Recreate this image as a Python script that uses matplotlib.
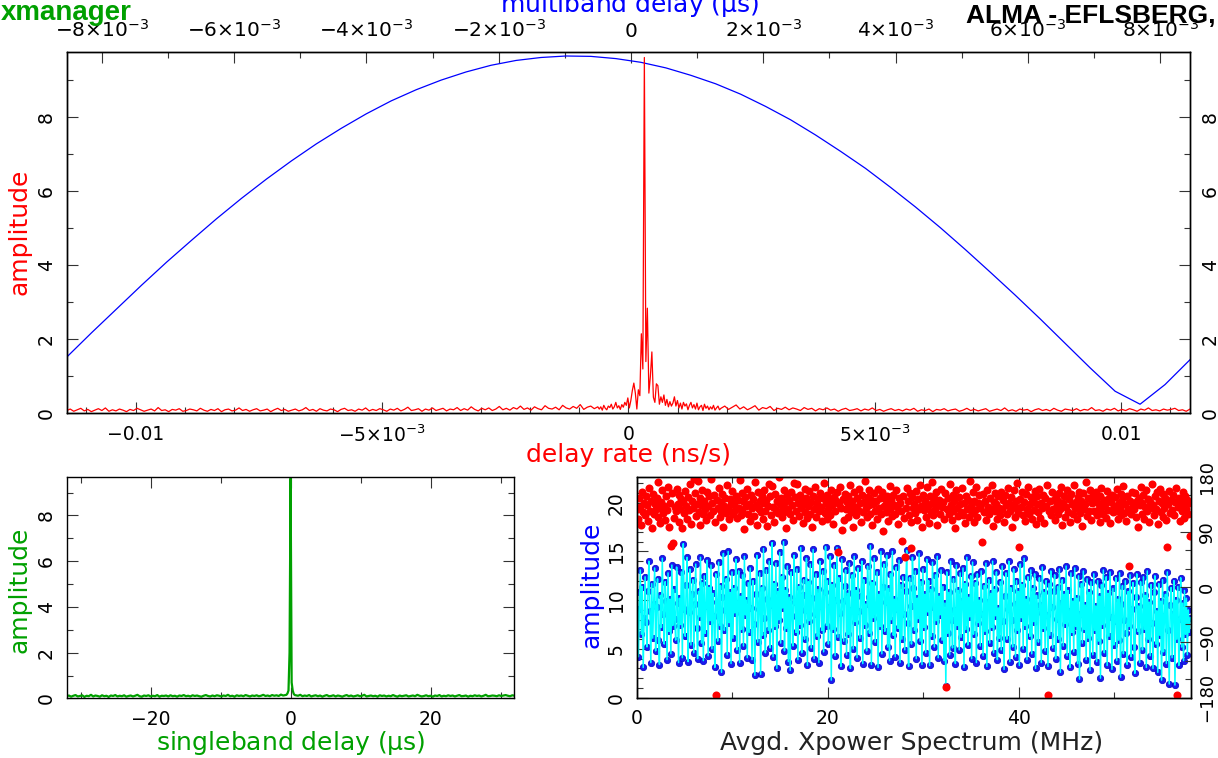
import matplotlib
matplotlib.use("Agg")
import matplotlib.pyplot as plt
import matplotlib.ticker as mticker
import numpy as np

plt.rcParams["font.family"] = "DejaVu Sans"
plt.rcParams["mathtext.fontset"] = "dejavusans"
plt.rcParams["mathtext.default"] = "regular"

"""
Data read off the fringe plot
"""

# multiband delay amplitude (blue arch), evenly sampled over the top axis range
mbd_range = (-8.53e-3, 8.45e-3)
mbd_amp = [1.52, 2.18, 2.82, 3.46, 4.08, 4.67, 5.25, 5.80, 6.32, 6.81,
           7.27, 7.69, 8.08, 8.43, 8.73, 8.99, 9.21, 9.39, 9.52, 9.60,
           9.64, 9.63, 9.57, 9.47, 9.32, 9.12, 8.89, 8.61, 8.28, 7.92,
           7.51, 7.07, 6.61, 6.10, 5.57, 5.01, 4.42, 3.81, 3.19, 2.55,
           1.89, 1.23, 0.60, 0.25, 0.78, 1.45]

# delay rate amplitude (red): noise floor left of the peak, the peak region, floor right of it
rate_range = (-0.0114, 0.0114)
rate_amp_left = [0.08, 0.12, 0.06, 0.1, 0.14, 0.07, 0.11, 0.05, 0.09, 0.13,
                 0.08, 0.15, 0.06, 0.1, 0.07, 0.12, 0.09, 0.05, 0.11, 0.08,
                 0.14, 0.1, 0.06, 0.09, 0.12, 0.07, 0.16, 0.08, 0.1, 0.05,
                 0.11, 0.09, 0.13, 0.06, 0.08, 0.12, 0.1, 0.07, 0.14, 0.09,
                 0.06, 0.11, 0.08, 0.13, 0.05, 0.1, 0.12, 0.07, 0.09, 0.15,
                 0.08, 0.11, 0.06, 0.1, 0.13, 0.07, 0.09, 0.12, 0.05, 0.1,
                 0.14, 0.08, 0.11, 0.06, 0.09, 0.12, 0.07, 0.1, 0.16, 0.08,
                 0.11, 0.06, 0.13, 0.09, 0.07, 0.12, 0.1, 0.05, 0.11, 0.14,
                 0.08, 0.1, 0.06, 0.12, 0.09, 0.15, 0.07, 0.11, 0.08, 0.13,
                 0.1, 0.06, 0.12, 0.09, 0.14, 0.07, 0.11, 0.17, 0.08, 0.1,
                 0.13, 0.06, 0.12, 0.09, 0.15, 0.08, 0.11, 0.14, 0.07, 0.12,
                 0.1, 0.16, 0.08, 0.13, 0.09, 0.18, 0.11, 0.07, 0.14, 0.1,
                 0.15, 0.08, 0.12, 0.19, 0.1, 0.14, 0.09, 0.16, 0.12, 0.2,
                 0.11, 0.15, 0.09, 0.18, 0.13, 0.1, 0.21, 0.14, 0.12, 0.17,
                 0.1, 0.22, 0.15, 0.12, 0.19, 0.14, 0.24, 0.11, 0.17, 0.2,
                 0.13, 0.18]
rate_core_range = (-0.00059, 0.00185)
rate_amp_core = [0.12, 0.18, 0.09, 0.22, 0.14, 0.1, 0.2, 0.16, 0.25, 0.12,
                 0.18, 0.3, 0.15, 0.21, 0.11, 0.24, 0.17, 0.3, 0.22, 0.42,
                 0.15, 0.35, 0.62, 0.82, 0.55, 0.12, 0.64, 0.48, 2.15, 1.2,
                 9.6, 1.4, 2.84, 0.55, 1.0, 1.66, 0.44, 0.3, 0.8, 0.75,
                 0.25, 0.45, 0.3, 0.5, 0.22, 0.38, 0.18, 0.32, 0.2, 0.28,
                 0.45, 0.2, 0.35, 0.15, 0.28, 0.12, 0.3, 0.2, 0.26, 0.1,
                 0.22, 0.3, 0.15, 0.24, 0.12, 0.28, 0.1, 0.18, 0.22, 0.08,
                 0.25, 0.14, 0.2, 0.1, 0.18, 0.12, 0.22, 0.09, 0.15, 0.2,
                 0.1]
rate_amp_right = [0.14, 0.2, 0.11, 0.17, 0.23, 0.12, 0.18, 0.1, 0.15, 0.21,
                  0.09, 0.16, 0.13, 0.19, 0.08, 0.14, 0.11, 0.17, 0.1, 0.15,
                  0.12, 0.08, 0.16, 0.11, 0.14, 0.07, 0.13, 0.1, 0.15, 0.09,
                  0.12, 0.06, 0.11, 0.14, 0.08, 0.1, 0.13, 0.07, 0.12, 0.09,
                  0.15, 0.08, 0.11, 0.06, 0.1, 0.13, 0.08, 0.11, 0.07, 0.12,
                  0.09, 0.14, 0.06, 0.1, 0.08, 0.12, 0.05, 0.11, 0.09, 0.13,
                  0.07, 0.1, 0.12, 0.06, 0.09, 0.14, 0.08, 0.11, 0.07, 0.1,
                  0.13, 0.06, 0.09, 0.12, 0.08, 0.15, 0.07, 0.1, 0.06, 0.12,
                  0.09, 0.11, 0.05, 0.1, 0.13, 0.08, 0.11, 0.07, 0.14, 0.09,
                  0.06, 0.12, 0.1, 0.08, 0.13, 0.07, 0.11, 0.09, 0.16, 0.08,
                  0.1, 0.06, 0.12, 0.09, 0.14, 0.07, 0.11, 0.08, 0.13, 0.1,
                  0.06, 0.12, 0.09, 0.15, 0.08, 0.1, 0.07, 0.12, 0.09, 0.11,
                  0.14, 0.08, 0.1, 0.06, 0.12]

# singleband delay amplitude (green)
sbd_range = (-32, 32)
sbd_amp_left = [0.1, 0.13, 0.08, 0.12, 0.15, 0.09, 0.11, 0.14, 0.07, 0.12,
                0.1, 0.16, 0.09, 0.13, 0.11, 0.08, 0.14, 0.1, 0.12, 0.07,
                0.13, 0.11, 0.15, 0.09, 0.12, 0.1, 0.14, 0.08, 0.11, 0.13,
                0.09, 0.12, 0.16, 0.1, 0.08, 0.13, 0.11, 0.14, 0.09, 0.12,
                0.1, 0.15, 0.08, 0.12, 0.11, 0.13, 0.09, 0.14, 0.1, 0.12,
                0.08, 0.13, 0.11, 0.15, 0.1, 0.12, 0.09, 0.14, 0.11, 0.13,
                0.1, 0.08, 0.12, 0.15, 0.11, 0.09, 0.13, 0.1, 0.14, 0.12,
                0.09, 0.13, 0.11, 0.16, 0.1, 0.12, 0.08, 0.14, 0.11, 0.13,
                0.1, 0.15, 0.12, 0.09, 0.13, 0.11, 0.14, 0.1, 0.12, 0.16,
                0.11, 0.13, 0.1, 0.15, 0.12, 0.14, 0.11, 0.17, 0.13, 0.15]
sbd_core_range = (-0.6, 0.6)
sbd_amp_core = [0.16, 0.22, 0.35, 2.0, 9.62, 0.7, 0.35, 0.2, 0.15]
sbd_amp_right = [0.14, 0.12, 0.16, 0.1, 0.13, 0.11, 0.15, 0.09, 0.12, 0.14,
                 0.1, 0.13, 0.08, 0.12, 0.15, 0.1, 0.11, 0.14, 0.09, 0.13,
                 0.11, 0.08, 0.12, 0.15, 0.1, 0.13, 0.09, 0.11, 0.14, 0.1,
                 0.12, 0.16, 0.09, 0.11, 0.13, 0.1, 0.12, 0.08, 0.14, 0.11,
                 0.13, 0.09, 0.12, 0.1, 0.15, 0.11, 0.08, 0.13, 0.1, 0.12,
                 0.14, 0.09, 0.11, 0.13, 0.1, 0.16, 0.12, 0.09, 0.11, 0.14,
                 0.1, 0.12, 0.08, 0.13, 0.11, 0.15, 0.09, 0.12, 0.1, 0.14,
                 0.11, 0.13, 0.09, 0.12, 0.15, 0.1, 0.11, 0.13, 0.08, 0.12,
                 0.1, 0.14, 0.11, 0.13, 0.09, 0.12, 0.16, 0.1, 0.11, 0.13,
                 0.12, 0.1, 0.14, 0.11, 0.13, 0.15, 0.12, 0.1, 0.14, 0.12]

# averaged cross power spectrum, one row per 2 MHz:
# amplitude (blue dots, cyan line) and phase in degrees (red dots)
xp_range = (0.05, 57.95)
xp_amp = [
    10.8, 4.2, 9.1, 13.1, 6.5, 11.4, 3.1, 8.2, 12.4, 7.8, 5.2, 10.9, 14.0, 8.9, 3.6, 11.7, 6.1, 9.6, 13.3, 4.8,
    9.3, 12.2, 5.9, 3.4, 10.5, 7.2, 14.3, 8.6, 5.5, 11.9, 9.9, 3.9, 12.8, 6.8, 10.1, 4.5, 13.6, 7.4, 11.1, 8.1,
    5.9, 13.4, 9.7, 3.6, 10.2, 7.5, 12.9, 4.1, 15.8, 9.1, 6.3, 11.6, 14.4, 3.7, 8.8, 13.2, 5.4, 10.6, 12.1, 4.6,
    9.6, 13.7, 7.1, 4.0, 10.9, 8.3, 14.4, 5.6, 11.8, 3.8, 12.5, 6.6, 9.4, 14.1, 4.3, 11.3, 7.9, 13.6, 5.0, 10.7,
    8.4, 3.1, 12.7, 9.8, 5.8, 13.9, 7.4, 11.5, 2.6, 10.3, 14.8, 6.9, 9.0, 12.2, 4.4, 15.0, 7.7, 10.8, 3.5, 12.9,
    6.1, 11.2, 8.7, 14.2, 4.9, 9.7, 13.0, 3.6, 10.4, 7.0, 12.6, 5.3, 14.5, 8.5, 10.0, 4.1, 11.8, 6.7, 13.3, 9.2,
    3.9, 12.0, 7.6, 2.3, 10.6, 14.6, 5.7, 9.1, 12.8, 2.4, 11.3, 6.4, 15.3, 8.2, 4.6, 13.1, 10.1, 6.9, 14.0, 5.1,
    9.5, 15.9, 4.2, 11.7, 7.3, 13.8, 3.0, 10.9, 8.0, 14.9, 5.6, 12.4, 9.2, 16.0, 4.8, 11.0, 7.1, 13.5, 3.7, 10.3,
    2.8, 12.9, 8.4, 5.3, 14.6, 9.8, 6.7, 13.2, 3.9, 11.4, 7.5, 15.4, 4.6, 10.5, 12.1, 6.0, 9.0, 14.3, 3.3, 11.9,
    7.9, 13.7, 5.1, 10.2, 15.2, 4.0, 8.6, 12.7, 6.3, 11.1, 3.6, 14.0, 9.4, 6.9, 13.0, 4.7, 10.8, 15.5, 7.4, 12.0,
    5.5, 9.3, 14.5, 1.8, 11.6, 7.0, 13.6, 4.3, 10.0, 15.4, 6.2, 12.3, 8.7, 3.2, 14.2, 9.9, 5.8, 11.5, 13.1, 4.4,
    10.7, 6.5, 13.8, 3.0, 9.0, 12.6, 5.0, 14.5, 7.8, 11.0, 4.1, 13.3, 8.9, 6.1, 10.4, 14.0, 3.5, 12.1, 7.5, 9.6,
    4.8, 13.5, 10.3, 6.6, 15.6, 3.4, 11.8, 8.2, 14.3, 5.7, 9.5, 12.9, 3.1, 10.6, 7.3, 15.0, 4.5, 11.4, 13.7, 6.8,
    9.8, 14.6, 5.2, 11.2, 3.8, 12.7, 8.0, 15.0, 6.4, 10.1, 4.2, 13.4, 9.1, 7.1, 14.1, 3.6, 11.6, 6.0, 12.4, 8.6,
    4.9, 10.9, 15.1, 7.7, 3.2, 12.3, 9.4, 5.5, 14.4, 11.3, 6.9, 13.0, 4.0, 10.2, 8.1, 14.8, 5.8, 11.9, 3.4, 13.2,
    7.2, 10.6, 4.6, 14.2, 8.8, 12.0, 3.3, 11.1, 6.3, 13.9, 9.3, 5.2, 12.6, 7.9, 14.5, 4.1, 10.4, 8.5, 13.1, 5.9,
    11.4, 3.8, 9.7, 1.2, 12.9, 6.6, 10.8, 4.4, 14.0, 8.0, 5.1, 12.2, 9.0, 3.5, 13.6, 7.4, 11.0, 4.9, 12.8, 6.2,
    9.9, 13.3, 3.1, 11.7, 7.0, 14.4, 5.4, 10.3, 8.3, 12.5, 4.0, 13.9, 6.5, 9.4, 11.8, 3.6, 12.7, 7.7, 10.0, 5.3,
    13.0, 8.6, 4.3, 11.5, 6.8, 13.8, 3.2, 9.8, 12.1, 5.6, 10.7, 7.2, 14.0, 4.6, 11.1, 8.4, 12.9, 3.9, 9.2, 6.1,
    11.9, 4.9, 13.5, 7.9, 2.9, 10.4, 12.8, 6.0, 9.1, 14.0, 3.7, 11.3, 8.0, 5.2, 13.2, 9.6, 4.2, 12.0, 6.9, 10.9,
    3.3, 13.7, 8.2, 11.6, 5.0, 14.3, 7.4, 10.1, 3.9, 12.4, 9.0, 6.3, 13.1, 4.5, 11.2, 7.8, 12.7, 3.0, 10.5, 8.8,
    5.7, 12.3, 9.5, 3.6, 13.4, 7.1, 10.8, 4.8, 12.0, 8.5, 3.2, 11.7, 6.4, 13.0, 9.3, 5.1, 10.9, 12.6, 4.0, 8.1,
    11.4, 6.0, 13.2, 2.6, 9.7, 12.1, 5.3, 10.6, 7.6, 13.5, 4.3, 11.0, 8.9, 3.1, 12.8, 6.7, 9.9, 4.7, 13.3, 7.3,
    10.2, 3.5, 12.5, 1.9, 8.6, 11.7, 5.6, 13.0, 7.0, 9.5, 3.9, 12.2, 6.1, 10.8, 2.8, 11.9, 8.2, 4.4, 12.7, 6.9,
    9.4, 3.7, 12.0, 5.8, 10.4, 2.0, 11.6, 7.5, 13.1, 4.6, 9.0, 12.4, 3.3, 10.7, 6.3, 12.9, 8.3, 2.9, 11.2, 5.4,
    7.9, 12.3, 3.8, 10.1, 5.9, 12.8, 2.1, 9.6, 11.5, 4.5, 8.0, 12.0, 6.6, 3.4, 10.9, 7.3, 12.6, 4.2, 9.1, 11.8,
    5.2, 2.5, 10.3, 12.7, 6.8, 9.4, 3.6, 11.9, 8.1, 4.9, 12.4, 7.0, 10.5, 3.1, 13.0, 6.0, 9.8, 4.3, 11.6, 7.7,
    3.0, 10.8, 12.5, 5.5, 8.9, 2.6, 11.7, 6.4, 9.9, 1.8, 12.1, 4.7, 8.4, 10.6, 3.5, 12.9, 6.9, 1.4, 9.5, 11.3,
    4.1, 8.6, 12.0, 1.3, 10.0, 6.0, 11.4, 3.3, 8.1, 12.3, 5.2, 9.7, 3.8, 11.0, 6.5, 10.2, 4.4, 9.0, 6.7, 8.2,
]
xp_phase = [
    128, 112, 145, 131, 102, 156, 122, 138, 117, 149, 134, 108, 162, 125, 141, 96, 152, 119, 136, 127,
    146, 115, 171, 130, 104, 139, 158, 121, 133, 110, 148, 126, 163, 99, 137, 68, 154, 72, 113, 131,
    124, 160, 135, 107, 150, 128, 144, 96, 139, 121, 157, 132, 111, 147, 126, 168, 103, 140, 129, 176,
    153, 116, 136, 174, 123, 145, 101, 134, 159, 120, 141, 127, 109, 155, 132, 148, 118, 177, 137, 125,
    150, 106, -176, 143, 130, 162, 115, 139, 124, 152, 98, 133, 146, 121, 166, 128, 111, 144, 135, 157,
    119, 138, 126, 149, 113, 142, 130, 175, 117, 153, 124, 140, 95, 147, 132, 161, 120, 136, 108, 151,
    129, 144, 116, 172, 134, 102, 156, 127, 141, 122, 148, 111, 137, 159, 125, 143, 100, 133, 169, 149,
    118, 165, 131, 107, 152, 126, 140, 121, 180, 135, 145, 114, 130, 158, 123, 139, 97, 150, 128, 142,
    119, 155, 134, 110, 170, 147, 125, 169, 138, 116, 151, 129, 143, 104, 137, 160, 122, 146, 113, 132,
    157, 120, 139, 99, 148, 127, 164, 115, 136, 144, 124, 153, 131, 108, 145, 170, 121, 138, 112, 150,
    128, 142, 117, 159, 134, 103, 147, 125, 140, 155, 58, 136, 163, 130, 94, 144, 109, 152, 127, 139,
    148, 114, 133, 167, 122, 141, 98, 156, 131, 118, 145, 126, 160, 137, 106, 150, 123, 139, 174, 129,
    115, 147, 134, 158, 120, 143, 101, 136, 153, 125, 140, 112, 161, 130, 146, 119, 155, 92, 132, 144,
    123, 149, 108, 137, 165, 127, 142, 116, 151, 134, 120, 158, 131, 103, 146, 138, 124, 76, 148, 113,
    50, 129, 162, 141, 118, 153, 64, 107, 147, 130, 136, 121, 157, 110, 144, 127, 167, 133, 98, 150,
    126, 140, 115, 163, 132, 105, 149, 122, 138, 171, 117, 145, 128, 156, 101, 135, 143, 119, 160, 131,
    139, 112, 154, -163, 127, 146, 120, 168, 134, 109, 151, 125, 141, 97, 158, 130, 116, 147, 136, 123,
    162, 118, 137, 104, 149, 128, 143, 115, 173, 132, 121, 155, 107, 140, 126, 164, 114, 138, 150, 129,
    135, 74, 152, 122, 141, 110, 159, 131, 119, 146, 127, 166, 100, 139, 153, 124, 136, 112, 148, 130,
    117, 156, 128, 143, 106, 151, 134, 120, 162, 138, 125, 147, 99, 133, 158, 114, 141, 129, 170, 121,
    66, 144, 131, 155, 118, 139, 108, 152, 127, 164, 120, 136, 147, 111, 142, 126, 157, 103, 135, 149,
    122, 160, 113, 138, 129, 151, 105, 145, 132, 167, -175, 124, 140, 117, 156, 128, 143, 110, 149, 134,
    141, 119, 154, 127, 163, 102, 137, 148, 115, 131, 158, 123, 144, 107, 152, 135, 120, 166, 129, 139,
    112, 147, 133, 156, 121, 140, 100, 153, 128, 136, 171, 116, 145, 125, 159, 109, 138, 150, 124, 142,
    155, 118, 137, 128, 148, 106, 162, 131, 120, 143, 135, 113, 157, 126, 146, 104, 139, 151, 122, 133,
    147, 124, 160, 111, 138, 130, 152, 117, 143, 165, 121, 136, 108, 149, 127, 35, 141, 119, 156, 132,
    128, 153, 115, 140, 99, 146, 134, 163, 120, 137, 150, 112, 131, 158, 124, 144, 106, 139, 129, 168,
    134, 118, 149, 127, 155, 103, 141, 160, 122, 137, 114, 152, 130, 145, 109, 66, 135, 157, 121, 143,
    126, 151, 117, 139, 162, -176, 131, 146, 108, 140, 124, 155, 132, 113, 148, 128, 143, 120, 137, 84,
]

# tick labels
rate_ticks = [-0.01, -0.005, 0, 0.005, 0.01]
rate_labels = ["\u22120.01", r"$-5{\times}10^{-3}$", "0", r"$5{\times}10^{-3}$", "0.01"]
mbd_ticks = [-8e-3, -6e-3, -4e-3, -2e-3, 0, 2e-3, 4e-3, 6e-3, 8e-3]
mbd_labels = [r"$-8{\times}10^{-3}$", r"$-6{\times}10^{-3}$", r"$-4{\times}10^{-3}$",
              r"$-2{\times}10^{-3}$", "0", r"$2{\times}10^{-3}$", r"$4{\times}10^{-3}$",
              r"$6{\times}10^{-3}$", r"$8{\times}10^{-3}$"]

RED, BLUE, GREEN, CYAN = "#ff0000", "#0000ff", "#00a000", "#00ffff"
TICK_FS, LABEL_FS = 13.5, 18


def style_ticks(ax, pad=8, **kw):
    ax.tick_params(which="both", direction="in", color="#333333", width=0.8,
                   labelsize=TICK_FS, pad=pad, **kw)
    ax.tick_params(which="major", length=8)
    ax.tick_params(which="minor", length=4)
    for s in ax.spines.values():
        s.set_linewidth(1.0)
        s.set_color("black")


def rotate_ylabels(ax):
    for t in ax.yaxis.get_major_ticks():
        for lab in (t.label1, t.label2):
            lab.set_rotation(90)
            lab.set_va("center")


fig = plt.figure(figsize=(12.18, 7.58), dpi=100)

# ---- top panel: delay rate (bottom axis) and multiband delay (top axis)
ax = fig.add_axes([0.05476, 0.45449, 0.92225, 0.47652])
ax_mbd = ax.twiny()

rate_x = np.concatenate([
    np.linspace(rate_range[0], -0.00062, len(rate_amp_left)),
    np.linspace(*rate_core_range, len(rate_amp_core)),
    np.linspace(0.00188, rate_range[1], len(rate_amp_right)),
])
rate_y = np.concatenate([rate_amp_left, rate_amp_core, rate_amp_right])
ax.plot(rate_x, rate_y, color=RED, lw=0.9)
ax_mbd.plot(np.linspace(*mbd_range, len(mbd_amp)), mbd_amp, color=BLUE, lw=0.9)

ax.set_xlim(*rate_range)
ax.set_ylim(0, 9.74)
ax_mbd.set_xlim(*mbd_range)
ax.set_zorder(ax_mbd.get_zorder() + 1)
ax.patch.set_visible(False)

ax.set_xticks(rate_ticks, rate_labels)
ax.xaxis.set_minor_locator(mticker.MultipleLocator(0.001))
ax.set_yticks([0, 2, 4, 6, 8])
ax.yaxis.set_minor_locator(mticker.MultipleLocator(1))
style_ticks(ax, left=True, right=True, labelleft=True, labelright=True,
            top=False, bottom=True)
rotate_ylabels(ax)

ax_mbd.set_xticks(mbd_ticks, mbd_labels)
ax_mbd.xaxis.set_minor_locator(mticker.MultipleLocator(0.001))
style_ticks(ax_mbd, top=True, bottom=False, labeltop=True, labelbottom=False)
ax_mbd.tick_params(labelsize=14.5)

# ---- bottom left: singleband delay
ax_sb = fig.add_axes([0.05476, 0.0785, 0.36765, 0.2928])
sbd_x = np.concatenate([
    np.linspace(sbd_range[0], -0.75, len(sbd_amp_left)),
    np.linspace(*sbd_core_range, len(sbd_amp_core)),
    np.linspace(0.75, sbd_range[1], len(sbd_amp_right)),
])
sbd_y = np.concatenate([sbd_amp_left, sbd_amp_core, sbd_amp_right])
ax_sb.plot(sbd_x, sbd_y, color=GREEN, lw=1.6)
ax_sb.set_xlim(*sbd_range)
ax_sb.set_ylim(0, 9.7)
ax_sb.set_xticks([-20, 0, 20], ["\u221220", "0", "20"])
ax_sb.xaxis.set_minor_locator(mticker.MultipleLocator(10))
ax_sb.set_yticks([0, 2, 4, 6, 8])
ax_sb.yaxis.set_minor_locator(mticker.MultipleLocator(1))
style_ticks(ax_sb, left=True, right=True, top=True, bottom=True)
rotate_ylabels(ax_sb)

# ---- bottom right: averaged cross power spectrum
ax_xp = fig.add_axes([0.52299, 0.0796, 0.4546, 0.2913])
ax_ph = ax_xp.twinx()
amp_x = np.linspace(*xp_range, len(xp_amp))
ph_x = np.linspace(*xp_range, len(xp_phase))
ax_xp.plot(amp_x, xp_amp, "o", color="#1a1aee", ms=4.6, mec="#0000cc", mew=0.5)
ax_xp.plot(amp_x, xp_amp, "-", color=CYAN, lw=1.1)
ax_ph.plot(ph_x, xp_phase, "o", color=RED, ms=5.8, mew=0)
ax_xp.set_xlim(0, 58)
ax_xp.set_ylim(0, 22.65)
ax_ph.set_ylim(-180, 180)
ax_xp.set_xticks([0, 20, 40])
ax_xp.xaxis.set_minor_locator(mticker.MultipleLocator(10))
ax_xp.set_yticks([0, 5, 10, 15, 20])
ax_xp.yaxis.set_minor_locator(mticker.MultipleLocator(1))
ax_ph.set_yticks([-180, -90, 0, 90, 180], ["\u2212180", "\u221290", "0", "90", "180"])
ax_ph.yaxis.set_minor_locator(mticker.MultipleLocator(30))
style_ticks(ax_xp, left=True, right=False, top=True, bottom=True)
style_ticks(ax_ph, pad=5, right=True, labelright=True)
ax_ph.tick_params(labelsize=13)
rotate_ylabels(ax_xp)
rotate_ylabels(ax_ph)

# ---- text
fig.text(0.0164, 0.694, "amplitude", color=RED, fontsize=LABEL_FS,
         rotation=90, ha="center", va="center")
fig.text(0.5156, 0.3997, "delay rate (ns/s)", color=RED, fontsize=LABEL_FS,
         ha="center", va="center")
fig.text(0.517, 0.9842, r"multiband delay ($\mu$s)", color=BLUE, fontsize=LABEL_FS,
         ha="center", va="baseline")
fig.text(0.0164, 0.2216, "amplitude", color=GREEN, fontsize=LABEL_FS,
         rotation=90, ha="center", va="center")
fig.text(0.2389, 0.0198, r"singleband delay ($\mu$s)", color=GREEN, fontsize=LABEL_FS,
         ha="center", va="center")
fig.text(0.486, 0.2282, "amplitude", color=BLUE, fontsize=LABEL_FS,
         rotation=90, ha="center", va="center")
fig.text(0.7488, 0.0198, "Avgd. Xpower Spectrum (MHz)", color="#222222",
         fontsize=LABEL_FS, ha="center", va="center")
fig.text(0.001, 0.9736, "xmanager", color="#00a000", fontsize=20,
         fontweight="bold", family="Liberation Sans", ha="left", va="baseline")
fig.text(0.793, 0.9697, "ALMA - EFLSBERG,", color="black", fontsize=19,
         fontweight="bold", family="Liberation Sans", ha="left", va="baseline")

fig.savefig("out.png", dpi=100)
